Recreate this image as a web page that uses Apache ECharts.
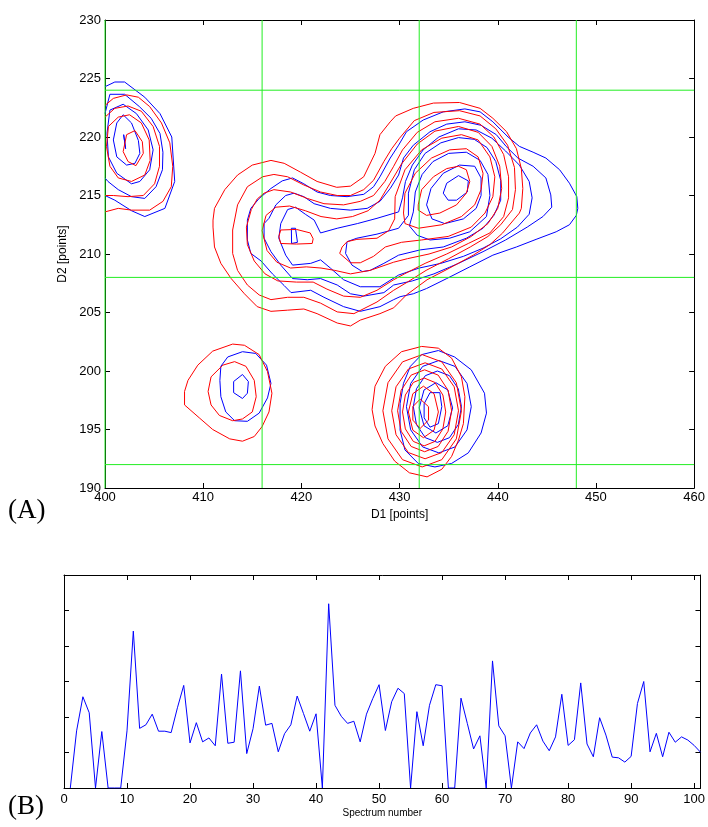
<!DOCTYPE html>
<html>
<head>
<meta charset="utf-8">
<script src="https://cdn.jsdelivr.net/npm/echarts@6/dist/echarts.min.js"></script>
<style>
html,body{margin:0;padding:0;background:#fff;}
#chart{width:708px;height:827px;}
</style>
</head>
<body>
<div id="chart"></div>
<script>
// ---------- Panel (A): contour data, [D1, D2] in points ----------
const greenX = [400, 416, 432, 448];
const greenY = [192, 208, 224];

// Peak near (402, 219)
const peak1Blue = [
  [[400,224.3],[401,224.7],[402,224.7],[404.05,223.4],[405.6,222.0],[406.8,220.0],[407.1,216.2],[406.1,213.9],[404.05,213.2],[402.7,213.7],[401,214.6],[400,215.0]],
  [[400,222.0],[400.5,223.65],[402.0,223.65],[403.5,222.6],[404.7,221.6],[405.6,220.3],[405.9,218.7],[405.85,217.2],[405.2,215.75],[404.05,214.75],[402.7,214.9],[401.35,215.5],[400.3,216.2],[400,216.5]],
  [[400.5,222.3],[401.85,222.8],[403.2,222.0],[404.4,220.6],[404.9,218.9],[404.55,217.2],[403.55,216.2],[402.7,216.0],[401.2,216.9],[400.35,218.3],[400.2,220.3]],
  [[401.85,221.9],[402.7,221.2],[403.4,219.7],[403.55,218.6],[403.05,217.75],[402.2,217.6],[401.2,218.3],[400.85,219.75],[401.2,221.2]],
  [[401.9,220.2],[402.1,220.1],[402.1,219.0],[401.9,219.0]]
];
const peak1Red = [
  [[400,222.7],[400.85,223.3],[402.2,223.6],[403.4,223.4],[404.55,222.6],[405.75,221.2],[406.6,219.5],[406.9,217.5],[406.75,215.75],[405.9,214.5],[404.55,213.75],[402.7,213.75],[401.35,213.9],[400,213.6]],
  [[400,221.7],[401.0,222.45],[402.35,222.65],[403.7,222.2],[404.9,220.9],[405.55,219.2],[405.55,217.5],[405.05,216.0],[403.9,215.0],[402.35,214.9],[400.85,215.0],[400,215.0]],
  [[400.35,220.9],[401.35,221.7],[402.5,221.9],[403.7,221.2],[404.5,219.75],[404.6,218.0],[404.05,216.75],[402.7,216.2],[401.35,216.5],[400.5,217.5],[400.15,219.2]],
  [[402.2,220.2],[403.05,220.55],[403.8,219.6],[403.9,218.6],[403.15,217.55],[402.35,217.9],[401.85,218.75]]
];

// Small peak near (414, 198.5)
const peak2Red = [
  [[408.1,198.25],[408.45,199.2],[409.45,200.5],[410.97,201.7],[413.0,202.3],[414.2,202.2],[415.7,201.4],[416.55,199.95],[417.0,198.1],[416.7,196.5],[416.0,195.25],[415.2,194.4],[414.0,194.0],[412.7,194.2],[410.97,195.0],[409.6,196.0],[408.1,197.1]],
  [[410.5,198.25],[410.8,199.5],[412.0,200.5],[413.2,200.8],[414.35,200.4],[415.2,199.2],[415.4,197.8],[415.0,196.5],[414.0,195.9],[413.0,195.75],[411.65,196.2],[410.8,197.1]]
];
const peak2Blue = [
  [[411.8,200.4],[412.5,201.2],[414.0,201.65],[415.35,201.5],[416.45,200.5],[416.9,198.95],[416.55,197.7],[415.7,196.4],[414.5,195.7],[413.2,195.75],[412.3,196.5],[411.8,197.8],[411.7,199.2]],
  [[413.1,199.1],[414.0,199.7],[414.6,199.1],[414.5,198.1],[414.0,197.65],[413.1,198.15]]
];

// Peak near (433, 196.5)
const peak3Red = [
  [[427.2,196.7],[427.5,198.7],[428.55,200.4],[430.2,201.65],[432.25,202.1],[433.95,201.95],[435.3,201.1],[436.3,199.5],[436.65,197.8],[436.5,195.5],[436.0,194.1],[435.3,192.7],[434.3,191.6],[432.8,190.95],[431.0,191.3],[429.5,192.3],[428.3,193.8],[427.5,195.3]],
  [[436.3,196.6],[435.78,199.0],[434.3,200.78],[432.3,201.4],[430.3,200.78],[428.82,199.0],[428.3,196.6],[428.82,194.2],[430.3,192.42],[432.3,191.8],[434.3,192.42],[435.78,194.2]],
  [[436.0,196.6],[435.56,198.65],[434.3,200.17],[432.6,200.7],[430.9,200.17],[429.64,198.65],[429.2,196.6],[429.64,194.55],[430.9,193.03],[432.6,192.5],[434.3,193.03],[435.56,194.55]],
  [[435.3,196.6],[434.94,198.35],[433.93,199.65],[432.55,200.1],[431.18,199.65],[430.16,198.35],[429.8,196.6],[430.16,194.85],[431.18,193.55],[432.55,193.1],[433.93,193.55],[434.94,194.85]],
  [[434.7,196.5],[434.41,197.95],[433.6,199.02],[432.5,199.4],[431.4,199.02],[430.59,197.95],[430.3,196.5],[430.59,195.05],[431.4,193.98],[432.5,193.6],[433.6,193.98],[434.41,195.05]],
  [[433.95,196.5],[433.51,198.06],[432.43,198.7],[431.35,198.06],[430.9,196.5],[431.35,194.94],[432.43,194.3],[433.51,194.94]],
  [[431.35,196.95],[432.1,197.6],[432.95,196.95],[432.95,195.8],[432.1,195.1],[431.35,195.8]]
];
const peak3Blue = [
  [[432.25,201.4],[433.95,201.75],[435.6,201.2],[437.3,200.1],[438.65,198.1],[438.85,196.4],[438.3,194.7],[437.0,193.0],[435.3,192.1],[433.6,191.8],[431.9,192.1],[430.55,193.25],[430.05,194.95],[430.05,197.2],[430.4,198.95],[431.1,200.4]],
  [[437.3,196.95],[436.87,198.93],[435.65,200.39],[434.0,200.9],[432.35,200.39],[431.13,198.93],[430.7,196.95],[431.13,194.97],[432.35,193.51],[434.0,193.0],[435.65,193.51],[436.87,194.97]],
  [[436.3,196.95],[435.98,198.48],[435.08,199.6],[433.85,200.0],[432.62,199.6],[431.72,198.48],[431.4,196.95],[431.72,195.42],[432.62,194.3],[433.85,193.9],[435.08,194.3],[435.98,195.42]],
  [[435.4,196.85],[434.91,198.38],[433.7,199.0],[432.49,198.38],[432.0,196.85],[432.49,195.32],[433.7,194.7],[434.91,195.32]],
  [[432.5,197.2],[433.1,198.15],[434.1,198.15],[434.3,196.95],[433.95,195.5],[433.1,195.2],[432.5,196.0]]
];

// Large two-lobed peak (418-446, 204-223)
const mainRed = [
  [[411.0,212.9],[411.15,213.9],[412.2,215.5],[413.5,216.75],[415.0,217.6],[416.9,218.0],[418.25,217.75],[419.9,217.0],[421.6,216.2],[423.6,215.7],[425.0,215.8],[426.35,216.6],[427.5,218.6],[428.0,220.2],[429.05,221.3],[429.6,221.8],[431.4,222.45],[433.45,222.9],[436.1,222.95],[438.2,222.45],[439.5,221.6],[440.9,220.45],[441.9,219.0],[442.4,217.3],[442.55,215.6],[442.4,213.9],[442.2,213.5],[440.5,211.8],[439.2,210.8],[437.5,209.9],[435.1,208.8],[432.8,207.8],[430.7,206.5],[429.4,205.4],[428.0,204.9],[426.0,204.35],[425.0,203.85],[423.65,204.1],[421.6,204.9],[420.25,205.3],[418.6,205.2],[416.9,205.1],[415.5,205.5],[414.2,206.6],[412.85,207.9],[411.8,209.2],[411.15,210.6],[411.0,212.3]],
  [[413.0,212.05],[413.5,214.2],[414.5,215.75],[416.05,216.6],[417.2,216.8],[418.6,216.6],[420.25,215.9],[421.95,215.3],[423.65,215.0],[425.0,215.0],[426.35,215.5],[427.35,216.3],[428.4,217.9],[429.2,219.0],[430.0,219.9],[431.5,221.4],[433.5,222.1],[436.1,222.25],[438.2,221.8],[439.8,220.7],[441.0,219.3],[441.7,217.4],[441.8,215.5],[441.5,213.8],[440.3,212.5],[439.0,211.5],[437.2,210.6],[435.0,209.6],[432.7,208.6],[430.8,207.6],[429.4,206.9],[427.7,205.9],[425.35,204.9],[423.65,205.05],[421.95,205.8],[420.25,206.3],[418.6,206.3],[416.9,206.1],[415.7,206.5],[414.5,207.35],[413.5,208.6],[413.0,210.05]],
  [[416.2,215.2],[417.2,215.5],[418.9,215.3],[420.6,214.75],[422.3,214.3],[424.3,214.2],[426.0,214.5],[427.35,215.0],[428.5,216.2],[429.4,217.5],[430.3,218.9],[431.8,220.4],[433.6,221.3],[436.0,221.6],[438.2,221.1],[439.6,220.0],[440.6,218.5],[441.1,216.6],[441.1,214.8],[440.6,213.2],[439.2,211.8],[437.0,210.9],[434.8,210.0],[432.6,209.2],[430.5,208.3],[429.4,207.8],[427.7,206.9],[426.0,206.3],[424.3,206.4],[422.6,207.0],[421.2,207.6],[419.5,207.6],[417.6,207.7],[416.3,208.3],[415.2,209.4],[414.5,210.8],[414.4,212.3],[414.9,213.8],[415.5,214.7]],
  [[416.0,212.0],[416.4,213.3],[417.4,214.0],[418.8,214.1],[420.4,213.7],[422.0,213.2],[423.6,213.0],[425.2,213.2],[426.8,213.7],[428.0,214.6],[429.0,216.0],[430.2,217.7],[431.8,219.4],[433.6,220.5],[436.0,220.9],[438.0,220.4],[439.4,219.2],[440.2,217.5],[440.4,215.6],[440.0,213.9],[439.0,212.6],[437.3,211.5],[435.3,210.6],[433.0,210.0],[430.8,209.6],[429.4,209.3],[427.0,208.6],[425.0,208.3],[423.4,208.6],[422.0,208.8],[420.5,208.9],[418.9,208.8],[417.5,209.3],[416.5,210.3]],
  [[417.9,212.05],[419.5,212.1],[420.9,211.8],[421.2,211.3],[421.1,210.9],[419.5,210.85],[417.9,210.9],[417.7,211.5]],
  [[429.5,213.0],[429.55,214.9],[430.55,217.2],[432.25,218.9],[434.3,219.9],[436.3,220.2],[438.0,219.75],[439.2,218.3],[439.7,216.6],[439.5,214.9],[438.7,213.5],[437.3,212.3],[434.95,211.5],[432.25,211.2],[430.2,211.0],[428.55,210.6],[427.35,209.8],[426.0,209.25],[425.0,209.25],[423.9,210.05],[424.15,210.6],[424.65,211.05],[425.65,211.25],[427.7,211.35],[428.9,212.0]],
  [[430.4,213.5],[430.55,215.2],[431.6,216.9],[433.25,218.2],[435.1,218.9],[436.8,219.0],[438.0,218.3],[438.5,216.9],[438.3,215.5],[437.65,214.2],[436.3,213.2],[434.3,212.5],[431.9,212.2],[430.55,212.6]],
  [[431.9,214.2],[432.25,215.5],[433.45,216.6],[434.8,217.3],[436.0,217.5],[436.8,217.2],[437.15,216.2],[436.8,215.2],[435.8,214.2],[434.1,213.5],[432.75,213.3],[431.9,213.75]]
];
const mainBlue = [
  [[414.5,212.9],[414.85,213.9],[415.7,214.75],[416.9,215.6],[418.05,216.25],[419.1,216.5],[420.25,216.0],[421.6,215.3],[422.95,215.0],[424.65,214.9],[426.35,215.1],[427.35,215.75],[428.0,216.6],[429.05,218.2],[429.9,219.3],[430.7,220.45],[432.4,221.45],[434.45,222.15],[436.65,222.4],[438.2,222.15],[439.5,221.3],[441.05,220.0],[442.2,219.2],[443.6,218.7],[444.9,218.2],[446.3,217.2],[447.3,216.05],[448.05,214.9],[448.15,213.9],[448.0,213.3],[447.3,212.5],[445.95,211.9],[443.9,211.25],[441.9,210.6],[439.5,209.9],[437.15,208.9],[434.8,207.9],[432.75,207.05],[431.4,206.6],[430.05,206.35],[429.4,206.1],[428.0,205.5],[426.0,205.1],[424.3,205.5],[422.3,206.3],[420.95,206.9],[418.95,206.7],[418.25,207.3],[417.05,208.3],[415.9,209.4],[414.85,210.05],[414.5,211.2],[414.5,212.6]],
  [[416.7,213.05],[417.4,214.2],[418.4,215.0],[419.25,215.2],[420.25,214.9],[421.3,214.3],[422.95,213.9],[425.0,213.75],[426.7,213.9],[428.0,214.5],[429.05,215.6],[429.9,216.75],[430.4,218.2],[431.4,219.3],[433.1,220.45],[434.8,221.1],[436.65,221.3],[438.3,221.0],[439.85,220.2],[440.85,219.2],[442.05,218.2],[443.6,217.5],[444.9,216.5],[445.4,215.05],[445.5,214.0],[444.6,213.2],[443.0,212.3],[440.8,211.2],[438.5,210.2],[436.0,209.2],[433.5,208.3],[431.3,207.7],[429.4,207.35],[428.4,206.7],[426.35,206.4],[425.0,206.6],[423.65,207.35],[421.95,207.9],[420.6,207.8],[419.1,207.9],[417.9,209.05],[416.9,210.2],[416.2,211.35],[416.2,212.6]],
  [[430.3,214.8],[430.6,216.2],[431.3,217.6],[432.4,218.9],[434.0,220.0],[436.0,220.7],[437.8,220.6],[439.4,219.9],[440.8,218.8],[442.2,217.6],[443.2,216.2],[443.5,214.8],[443.2,213.4],[442.0,212.3],[440.3,211.3],[438.5,210.5],[436.5,209.8],[434.2,209.2],[432.0,208.8],[429.9,208.2],[428.0,207.2],[426.0,207.2],[424.3,207.8],[422.95,208.8],[421.95,209.5],[420.95,209.2],[419.1,209.05],[418.4,209.9],[417.7,211.35],[417.9,212.6],[418.6,213.8],[419.4,214.0],[420.4,213.4],[421.3,212.9],[421.95,211.8],[423.65,212.2],[425.7,212.6],[427.7,213.05],[429.9,213.6]],
  [[430.9,213.3],[430.9,215.2],[431.5,217.2],[432.6,218.6],[434.2,219.5],[436.0,219.95],[437.6,219.8],[438.9,219.1],[439.8,217.9],[440.3,216.3],[440.3,214.6],[439.6,213.3],[438.5,212.2],[436.8,211.35],[434.45,210.6],[432.1,210.35],[429.9,209.9],[428.4,209.2],[427.0,208.6],[426.2,208.5],[425.15,209.05],[424.5,210.05],[424.65,211.05],[425.65,211.35],[427.7,211.7],[429.9,212.2]],
  [[431.4,213.6],[431.6,215.3],[432.3,216.8],[433.4,217.9],[435.0,218.6],[436.8,218.7],[438.2,218.0],[439.0,216.8],[439.2,215.0],[438.85,213.2],[437.15,211.9],[435.1,211.35],[433.1,211.2],[431.8,211.6],[431.0,212.4]],
  [[432.75,214.2],[433.2,215.6],[434.45,216.9],[436.1,217.6],[437.65,217.5],[438.3,216.5],[438.3,215.0],[437.8,213.9],[436.5,213.0],[434.6,212.6],[433.3,213.0]],
  [[434.45,215.2],[434.8,216.05],[436.0,216.7],[437.0,216.25],[436.9,215.3],[435.8,214.6],[434.95,214.6]],
  [[418.98,212.2],[419.4,212.2],[419.6,211.0],[419.0,210.9]]
];

// ---------- Panel (B): spectrum trace ----------
const spectrumValues = [
  0, 1.61, 2.57, 2.12, 0, 1.59, 0, 0, 0, 1.61,
  4.42, 1.68, 1.78, 2.08, 1.60, 1.60, 1.56, 2.26, 2.89, 1.27,
  1.84, 1.30, 1.41, 1.19, 3.21, 1.26, 1.29, 3.30, 0.97, 1.67,
  2.87, 1.77, 1.82, 1.02, 1.53, 1.78, 2.59, 2.10, 1.60, 2.09,
  0, 5.19, 2.33, 2.02, 1.82, 1.88, 1.30, 2.08, 2.52, 2.91,
  1.62, 2.43, 2.81, 2.66, 0, 2.15, 1.19, 2.33, 2.91, 2.88,
  0, 0, 2.53, 1.82, 1.10, 1.47, 0, 3.58, 1.75, 1.47,
  0, 1.30, 1.11, 1.55, 1.78, 1.32, 1.05, 1.44, 2.64, 1.20,
  1.36, 2.96, 1.24, 0.88, 1.98, 1.49, 0.87, 0.85, 0.73, 0.89,
  2.38, 3.00, 1.02, 1.54, 0.88, 1.57, 1.29, 1.44, 1.35, 1.20,
  1.01
];

// ---------- Build chart ----------
const RED = '#ff0000', BLUE = '#0000ff', GREEN = '#22ee22';
const FONT = 'Liberation Sans, Arial, Helvetica, sans-serif';
const D1_MIN = 400, D1_MAX = 460, D2_MIN = 190, D2_MAX = 230;
const series = [];
function addContours(list, color) {
  list.forEach(function (pts) {
    const closed = pts[0][0] > D1_MIN;
    const d = closed ? pts.concat([pts[0]]) : pts;
    series.push({
      type: 'line', xAxisIndex: 0, yAxisIndex: 0, data: d,
      symbol: 'none', silent: true, animation: false, clip: true,
      lineStyle: { color: color, width: 1 }, z: 2
    });
  });
}
addContours(peak1Blue, BLUE);
addContours(peak1Red, RED);
addContours(peak2Blue, BLUE);
addContours(peak2Red, RED);
addContours(mainBlue, BLUE);
addContours(mainRed, RED);
addContours(peak3Blue, BLUE);
addContours(peak3Red, RED);

// green grid lines as ordinary line series
greenX.forEach(function (v) {
  series.push({ type: 'line', xAxisIndex: 0, yAxisIndex: 0, data: [[v, D2_MIN], [v, D2_MAX]],
    symbol: 'none', silent: true, animation: false, z: 5, lineStyle: { color: GREEN, width: 1 } });
});
greenY.forEach(function (v) {
  series.push({ type: 'line', xAxisIndex: 0, yAxisIndex: 0, data: [[D1_MIN, v], [D1_MAX, v]],
    symbol: 'none', silent: true, animation: false, z: 5, lineStyle: { color: GREEN, width: 1 } });
});

series.push({
  type: 'line', xAxisIndex: 2, yAxisIndex: 2,
  data: spectrumValues.map(function (v, i) { return [i + 1, v]; }),
  symbol: 'none', animation: false, clip: true, silent: true,
  lineStyle: { color: BLUE, width: 1 }
});

const axLine = { show: true, onZero: false, lineStyle: { color: '#000', width: 1 } };
const tick = { show: true, inside: true, length: 5, lineStyle: { color: '#000', width: 1 } };
const lbl = { color: '#000', fontSize: 13, fontFamily: FONT };

const option = {
  backgroundColor: '#fff',
  animation: false,
  grid: [
    { left: 105, top: 20, width: 592, height: 468, show: false },
    { left: 64, top: 575, width: 639, height: 213, show: false }
  ],
  xAxis: [
    { gridIndex: 0, type: 'value', position: 'bottom', min: D1_MIN, max: D1_MAX, interval: 10,
      axisLine: axLine, axisTick: tick, splitLine: { show: false },
      axisLabel: Object.assign({ margin: 3 }, lbl),
      name: 'D1 [points]', nameLocation: 'middle', nameGap: 20,
      nameTextStyle: { color: '#000', fontSize: 12, fontFamily: FONT } },
    { gridIndex: 0, type: 'value', position: 'top', min: D1_MIN, max: D1_MAX, interval: 10,
      axisLine: axLine, axisTick: tick, splitLine: { show: false }, axisLabel: { show: false } },
    { gridIndex: 1, type: 'value', position: 'bottom', min: 0, max: 101, interval: 10,
      axisLine: axLine, axisTick: tick, splitLine: { show: false },
      axisLabel: Object.assign({ margin: 5, showMaxLabel: false }, lbl),
      name: 'Spectrum number', nameLocation: 'middle', nameGap: 20,
      nameTextStyle: { color: '#000', fontSize: 10, fontFamily: FONT } },
    { gridIndex: 1, type: 'value', position: 'top', min: 0, max: 101, interval: 10,
      axisLine: axLine, axisTick: tick, splitLine: { show: false }, axisLabel: { show: false } }
  ],
  yAxis: [
    { gridIndex: 0, type: 'value', position: 'left', min: D2_MIN, max: D2_MAX, interval: 5,
      axisLine: axLine, axisTick: tick, splitLine: { show: false },
      axisLabel: Object.assign({ margin: 4 }, lbl),
      name: 'D2 [points]', nameLocation: 'middle', nameGap: 33, nameRotate: 90,
      nameTextStyle: { color: '#000', fontSize: 12, fontFamily: FONT } },
    { gridIndex: 0, type: 'value', position: 'right', min: D2_MIN, max: D2_MAX, interval: 5,
      axisLine: axLine, axisTick: tick, splitLine: { show: false }, axisLabel: { show: false } },
    { gridIndex: 1, type: 'value', position: 'left', min: 0, max: 6, interval: 1,
      axisLine: axLine, axisTick: tick, splitLine: { show: false }, axisLabel: { show: false } },
    { gridIndex: 1, type: 'value', position: 'right', min: 0, max: 6, interval: 1,
      axisLine: axLine, axisTick: tick, splitLine: { show: false }, axisLabel: { show: false } }
  ],
  graphic: [
    { type: 'text', left: 8, top: 497, style: { text: '(A)', fontSize: 27, fontFamily: 'Liberation Serif, Times New Roman, serif', fill: '#000' } },
    { type: 'text', left: 8, top: 793, style: { text: '(B)', fontSize: 27, fontFamily: 'Liberation Serif, Times New Roman, serif', fill: '#000' } }
  ],
  series: series
};

const chart = echarts.init(document.getElementById('chart'), null, { renderer: 'canvas' });
chart.setOption(option);
</script>
</body>
</html>
